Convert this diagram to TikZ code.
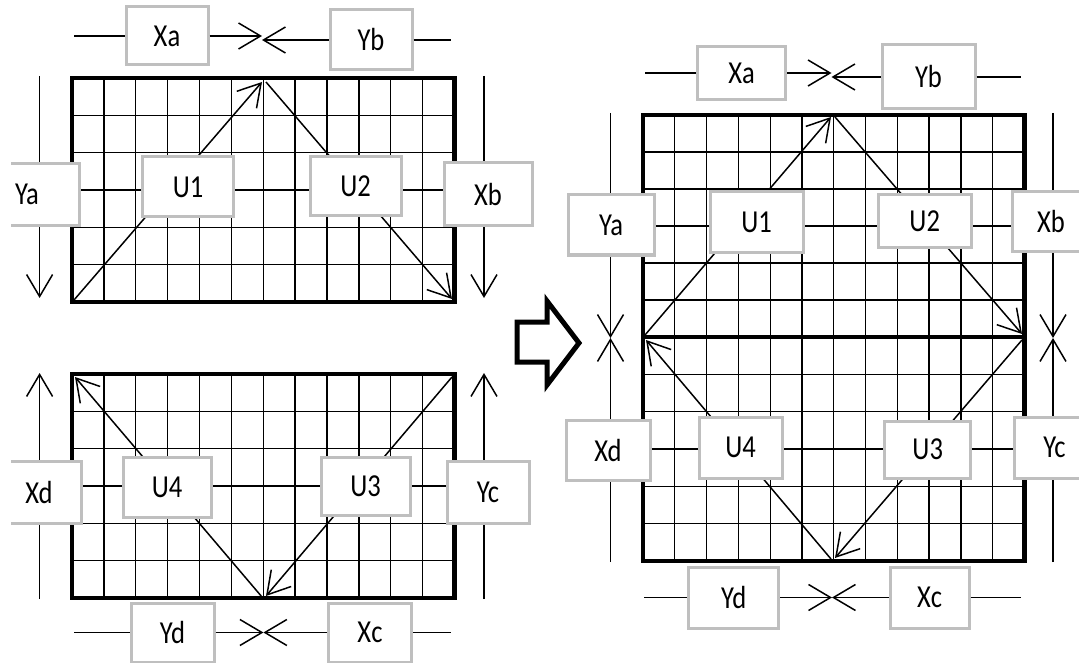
\documentclass[tikz,border=0pt]{standalone}
\usepackage{fontspec}
\setmainfont{Carlito}[FakeStretch=0.83]
\usetikzlibrary{arrows.meta}
\definecolor{boxgray}{RGB}{191,191,191}
\begin{document}
\begin{tikzpicture}[x=1pt,y=-1pt,
  lbl/.style={draw=boxgray, line width=3pt, fill=white, inner sep=0pt,
    font=\fontsize{32}{32}\selectfont},
  gridline/.style={line width=1.3pt},
  frame/.style={line width=4.5pt},
  conn/.style={line width=1.5pt},
  arr/.style={conn, -{Straight Barb[length=22pt,width=26pt]}},
  bigarrow/.style={line width=5pt, miter limit=10},
]
\useasboundingbox (0,0) rectangle (1079,663);

% ---------- grids ----------
% left top
\foreach \i in {1,...,11} \draw[gridline] ({72+\i*31.875},78) -- ({72+\i*31.875},302);
\foreach \j in {1,...,5} \draw[gridline] (72,{78+\j*37.333}) -- (454.5,{78+\j*37.333});
\draw[frame] (72,78) rectangle (454.5,302);
% left bottom
\foreach \i in {1,...,11} \draw[gridline] ({72+\i*31.875},374) -- ({72+\i*31.875},598);
\foreach \j in {1,...,5} \draw[gridline] (72,{374+\j*37.333}) -- (454.5,{374+\j*37.333});
\draw[frame] (72,374) rectangle (454.5,598);
% right
\foreach \i in {1,...,11} \draw[gridline] ({643+\i*31.79},115) -- ({643+\i*31.79},561);
\foreach \j in {1,...,5} \draw[gridline] (643,{115+\j*37}) -- (1024.5,{115+\j*37});
\foreach \j in {1,...,5} \draw[gridline] (643,{337+\j*37.333}) -- (1024.5,{337+\j*37.333});
\draw[frame] (643,115) rectangle (1024.5,561);
\draw[frame] (643,337) -- (1024.5,337);

% ---------- diagonal arrows ----------
\coordinate (a1s) at (74,300);  \coordinate (a1t) at (262,82);
\coordinate (a2s) at (266,82);  \coordinate (a2t) at (452,299);
\coordinate (b4s) at (262,597); \coordinate (b4t) at (75,377);
\coordinate (b3s) at (452,377); \coordinate (b3t) at (266,596);
\coordinate (c1s) at (645,335); \coordinate (c1t) at (831,117);
\coordinate (c2s) at (835,117); \coordinate (c2t) at (1022,334);
\coordinate (d4s) at (831,559); \coordinate (d4t) at (646,340);
\coordinate (d3s) at (1022,340);\coordinate (d3t) at (835,558);
\draw[arr] (a1s) -- (a1t);
\draw[arr] (a2s) -- (a2t);
\draw[arr] (b4s) -- (b4t);
\draw[arr] (b3s) -- (b3t);
\draw[arr] (c1s) -- (c1t);
\draw[arr] (c2s) -- (c2t);
\draw[arr] (d4s) -- (d4t);
\draw[arr] (d3s) -- (d3t);

% ---------- vertical arrows ----------
\coordinate (v1a) at (39.6,76);  \coordinate (v1b) at (39.6,298);
\coordinate (v2a) at (484,76);   \coordinate (v2b) at (484,298);
\coordinate (v3a) at (39.6,599); \coordinate (v3b) at (39.6,373);
\coordinate (v4a) at (484,599);  \coordinate (v4b) at (484,373);
\coordinate (w1a) at (610.5,113); \coordinate (wl) at (610.5,338);
\coordinate (w3a) at (610.5,562);
\coordinate (w2a) at (1053,113);  \coordinate (wr) at (1053,338);
\coordinate (w4a) at (1053,562);
\draw[arr] (v1a) -- (v1b);
\draw[arr] (v2a) -- (v2b);
\draw[arr] (v3a) -- (v3b);
\draw[arr] (v4a) -- (v4b);
\draw[arr] (w1a) -- (wl);
\draw[arr] (w3a) -- (wl);
\draw[arr] (w2a) -- (wr);
\draw[arr] (w4a) -- (wr);

% ---------- boxes: left top ----------
\node[lbl, minimum width=82, minimum height=58] (xa1) at (167,36) {Xa};
\node[lbl, minimum width=82, minimum height=60] (yb1) at (371,40) {Yb};
\node[lbl, minimum width=104, minimum height=62] (ya1) at (27,194.5) {Ya};
\node[lbl, minimum width=91, minimum height=60] (u11) at (188,187) {U1};
\node[lbl, minimum width=91, minimum height=59] (u21) at (355.5,186.5) {U2};
\node[lbl, minimum width=88, minimum height=63] (xb1) at (488,194.5) {Xb};
% left bottom
\node[lbl, minimum width=84, minimum height=62] (xd1) at (39,492) {Xd};
\node[lbl, minimum width=88, minimum height=60] (u41) at (167,487) {U4};
\node[lbl, minimum width=89, minimum height=58] (u31) at (365.5,486) {U3};
\node[lbl, minimum width=82, minimum height=62] (yc1) at (488,492) {Yc};
\node[lbl, minimum width=83, minimum height=59] (yd1) at (172.5,632.5) {Yd};
\node[lbl, minimum width=83, minimum height=59] (xc1) at (370,632.5) {Xc};
% right
\node[lbl, minimum width=88, minimum height=53] (xa2) at (741.6,73) {Xa};
\node[lbl, minimum width=93, minimum height=64] (yb2) at (928.5,77) {Yb};
\node[lbl, minimum width=86, minimum height=60] (ya2) at (611,225) {Ya};
\node[lbl, minimum width=93, minimum height=61] (u12) at (756.5,222.5) {U1};
\node[lbl, minimum width=93, minimum height=53] (u22) at (924.7,221.5) {U2};
\node[lbl, minimum width=78, minimum height=60] (xb2) at (1051,222) {Xb};
\node[lbl, minimum width=84, minimum height=60] (xd2) at (608,450) {Xd};
\node[lbl, minimum width=83, minimum height=61] (u42) at (740.5,447.5) {U4};
\node[lbl, minimum width=86.5, minimum height=57] (u32) at (927.7,449.5) {U3};
\node[lbl, minimum width=81, minimum height=61] (yc2) at (1054.5,447.5) {Yc};
\node[lbl, minimum width=90.5, minimum height=61] (yd2) at (733.7,597.5) {Yd};
\node[lbl, minimum width=79, minimum height=61] (xc2) at (929.5,597.5) {Xc};

% ---------- horizontal connectors ----------
\coordinate (h1l) at (74,36);  \coordinate (h1m) at (262,38);  \coordinate (h1r) at (451,40);
\coordinate (h2l) at (74,632.5); \coordinate (h2m) at (263.4,633); \coordinate (h2r) at (451,632.5);
\coordinate (h3l) at (645,73); \coordinate (h3m) at (831.5,76); \coordinate (h3r) at (1021,77);
\coordinate (h4l) at (644,597.5); \coordinate (h4m) at (832,598); \coordinate (h4r) at (1021,597.5);
\draw[conn] (h1l) -- (xa1);
\draw[arr] (xa1.east) -- (xa1.east -| h1m);
\draw[arr] (yb1.west) -- (yb1.west -| h1m);
\draw[conn] (yb1) -- (h1r);
\draw[conn] (h2l) -- (yd1);
\draw[arr] (yd1.east) -- (yd1.east -| h2m);
\draw[arr] (xc1.west) -- (xc1.west -| h2m);
\draw[conn] (xc1) -- (h2r);
\draw[conn] (h3l) -- (xa2);
\draw[arr] (xa2.east) -- (xa2.east -| h3m);
\draw[arr] (yb2.west) -- (yb2.west -| h3m);
\draw[conn] (yb2) -- (h3r);
\draw[conn] (h4l) -- (yd2);
\draw[arr] (yd2.east) -- (yd2.east -| h4m);
\draw[arr] (xc2.west) -- (xc2.west -| h4m);
\draw[conn] (xc2) -- (h4r);

% ---------- big hollow arrow ----------
\draw[bigarrow] (517,322) -- (547,322) -- (547,301) -- (579,343) -- (547,385)
  -- (547,362) -- (517,362) -- cycle;

% white margin at the left edge
\fill[white] (-60,0) rectangle (10.5,663);
\end{tikzpicture}
\end{document}
